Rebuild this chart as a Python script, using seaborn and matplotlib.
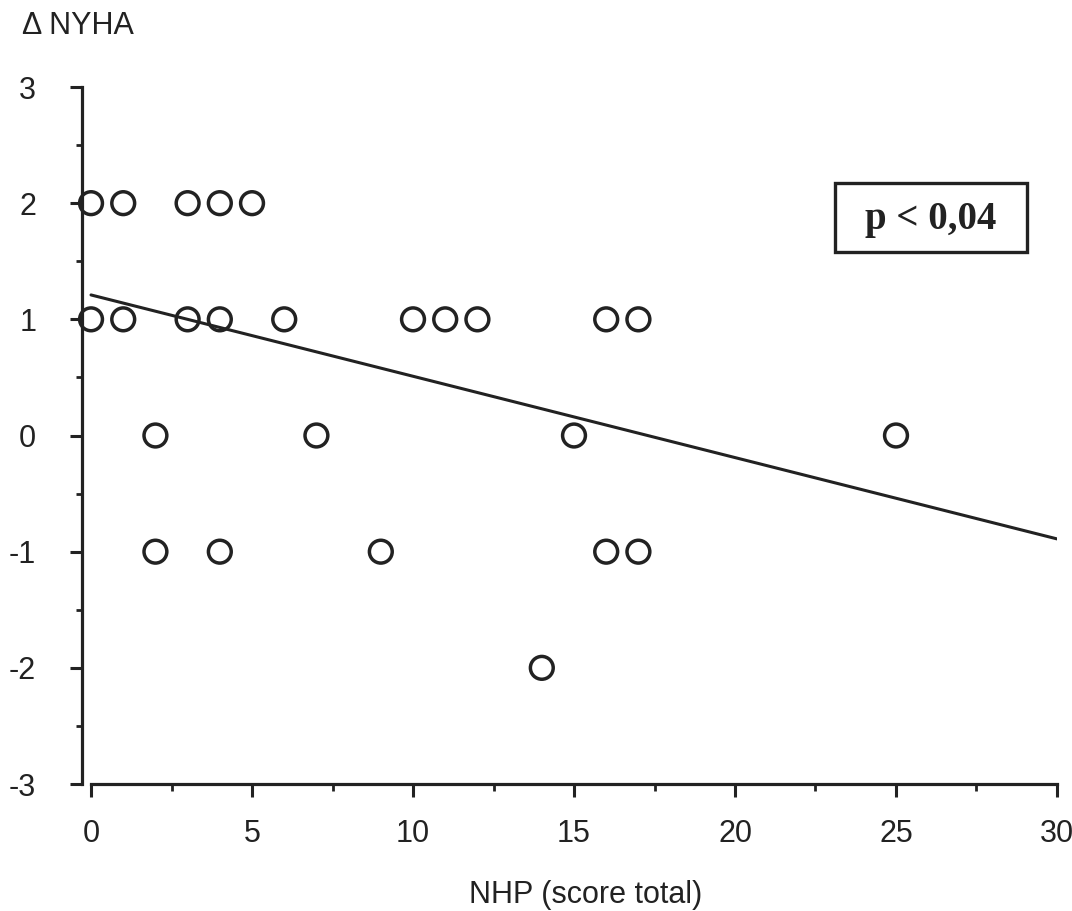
import numpy as np
import pandas as pd
import seaborn as sns
import matplotlib.pyplot as plt
from matplotlib.patches import Rectangle
from matplotlib.ticker import MultipleLocator

# NHP total score vs change in NYHA class
nhp_score = [0, 1, 3, 4, 5,
             0, 1, 3, 4, 6, 10, 11, 12, 16, 17,
             2, 7, 15, 25,
             2, 4, 9, 16, 17,
             14]
delta_nyha = [2, 2, 2, 2, 2,
              1, 1, 1, 1, 1, 1, 1, 1, 1, 1,
              0, 0, 0, 0,
              -1, -1, -1, -1, -1,
              -2]

# linear fit coefficients
fit_intercept = 1.21
fit_slope = -0.0700
fit_range = [0, 30]

x_ticks = [0, 5, 10, 15, 20, 25, 30]
y_ticks = [-3, -2, -1, 0, 1, 2, 3]
p_label = "p < 0,04"

sns.set_style("ticks")
plt.rcParams['font.family'] = ['Liberation Sans', 'DejaVu Sans']

ink = "#222222"
fig = plt.figure(figsize=(10.72, 9.11), dpi=100)
ax = fig.add_axes([0.0765, 0.1394, 0.9095, 0.7651])

df = pd.DataFrame({"nhp": nhp_score, "dnyha": delta_nyha})
sns.scatterplot(data=df, x="nhp", y="dnyha", ax=ax, s=270, marker="o",
                facecolor="none", edgecolor=ink, linewidth=2.5,
                clip_on=False, zorder=3)

fit_x = np.array(fit_range, dtype=float)
fit_y = fit_intercept + fit_slope * fit_x
sns.lineplot(x=fit_x, y=fit_y, ax=ax, color=ink, linewidth=2.2, zorder=2)

ax.set_xlim(-0.28, 30)
ax.set_ylim(-3, 3)
ax.set_xticks(x_ticks)
ax.set_yticks(y_ticks)
ax.set_xticklabels([str(t) for t in x_ticks])
ax.set_yticklabels([str(t) for t in y_ticks])
ax.xaxis.set_minor_locator(MultipleLocator(2.5))
ax.yaxis.set_minor_locator(MultipleLocator(0.5))

sns.despine(ax=ax)
ax.spines['bottom'].set_bounds(0, 30)
for side in ('left', 'bottom'):
    ax.spines[side].set_linewidth(2.3)
    ax.spines[side].set_color(ink)

ax.tick_params(axis='x', which='major', length=9.5, width=2.2, color=ink,
               labelsize=22, pad=16, labelcolor=ink)
ax.tick_params(axis='x', which='minor', length=5, width=2.0, color=ink)
ax.tick_params(axis='y', which='major', length=9, width=2.2, color=ink,
               labelsize=22, pad=24, labelcolor=ink)
ax.tick_params(axis='y', which='minor', length=4.5, width=2.0, color=ink)

ax.set_xlabel("")
ax.set_ylabel("")

fig.text(22 / 1072, 1 - 26 / 911, "Δ NYHA", fontsize=22, color=ink,
         ha='left', va='center')
fig.text(586 / 1072, 1 - 895 / 911, "NHP (score total)", fontsize=22,
         color=ink, ha='center', va='center')

# significance box
fig.patches.append(Rectangle((835 / 1072, 1 - 252 / 911), 192 / 1072, 69 / 911,
                             transform=fig.transFigure, fill=False,
                             edgecolor=ink, linewidth=2.4))
fig.text(931 / 1072, 1 - 219 / 911, p_label, fontsize=28, fontweight='bold',
         family=['Liberation Serif', 'DejaVu Serif'], color=ink,
         ha='center', va='center')

fig.savefig("out.png", dpi=100, facecolor="white")
